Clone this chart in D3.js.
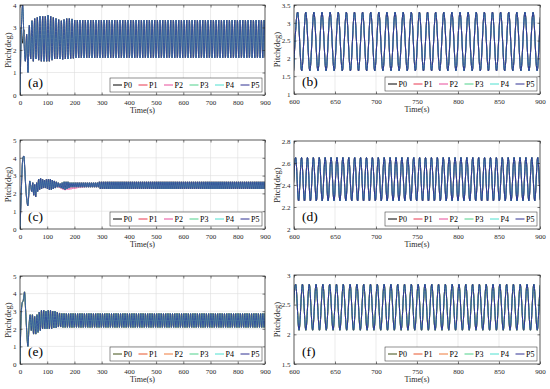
<!DOCTYPE html>
<html><head><meta charset="utf-8">
<script src="https://cdn.jsdelivr.net/npm/d3@7"></script>
<style>body{margin:0;background:#fff}svg{display:block}</style>
</head><body>
<svg id="chart" width="550" height="389"></svg>
<script>
// ---------- data ----------
const seriesNames = ["P0","P1","P2","P3","P4","P5"];
const colorsABCD = ["#000000","#e8364f","#e84d9b","#4fd18b","#4fe0d0","#2e3192"];
const colorsEF   = ["#3f4f14","#e8542a","#ef7b3b","#4fd18b","#4fe0d0","#2e3192"];
const panelLabels = ["(a)","(b)","(c)","(d)","(e)","(f)"];
const xTicksFull = [0,100,200,300,400,500,600,700,800,900];
const xTicksZoom = [600,650,700,750,800,850,900];
const aYTicks = [0,1,2,3,4];
const bYTicks = [1,1.5,2,2.5,3,3.5];
const cYTicks = [0,1,2,3,4,5];
const dYTicks = [2,2.2,2.4,2.6,2.8];
const eYTicks = [0,1,2,3,4,5];
const fYTicks = [1.5,2,2.5,3];

// samples of pitch (deg) at the oscillation extrema: start time, sample step (s), values
const aStart = 0, aStep = 4.9;
const aP5 = [0,2.9,4.0,2.4,1.5,2.7,1.0,3.1,1.6,3.3,1.5,3.4,1.6,3.45,1.55,3.5,1.5,3.5,1.5,3.5,
 1.5,3.55,1.5,3.5,1.55,3.45,1.6,3.4,1.6,3.35,1.6,3.3,1.58,3.35,1.6,3.4,1.6,3.4,1.62,3.38,1.63,
 3.33,1.65,3.33,1.65,3.33,1.65,3.33,1.65,3.33,1.65,3.33,1.65,3.33,1.65,3.33,1.65,3.33,1.65,3.33,1.65,
 3.33,1.65,3.33,1.65,3.33,1.65,3.33,1.65,3.33,1.65,3.33,1.65,3.33,1.65,3.33,1.65,3.33,1.65,3.33,1.65,
 3.33,1.65,3.33,1.65,3.33,1.65,3.33,1.65,3.33,1.65,3.33,1.65,3.33,1.65,3.33,1.65,3.33,1.65,3.33,1.65,
 3.33,1.65,3.33,1.65,3.33,1.65,3.33,1.65,3.33,1.65,3.33,1.65,3.33,1.65,3.33,1.65,3.33,1.65,3.33,1.65,
 3.33,1.65,3.33,1.65,3.33,1.65,3.33,1.65,3.33,1.65,3.33,1.65,3.33,1.65,3.33,1.65,3.33,1.65,3.33,1.65,
 3.33,1.65,3.33,1.65,3.33,1.65,3.33,1.65,3.33,1.65,3.33,1.65,3.33,1.65,3.33,1.65,3.33,1.65,3.33,1.65,
 3.33,1.65,3.33,1.65,3.33,1.65,3.33,1.65,3.33,1.65,3.33,1.65,3.33,1.65,3.33,1.65,3.33,1.65,3.33,1.65,
 3.33,1.65,3.33,1.65,3.33,1.65,3.33,1.65,3.33,1.65,3.33,1.65,3.33,1.65,3.33,1.65,3.33,1.65,3.33,1.65];
const aP0Head = [2.5,3.0,2.3,2.9,1.6,2.6,1.1,3.0];

const bStart = 599.5, bStep = 4.95;
const bP5 = [1.65,3.3,1.65,3.3,1.65,3.3,1.65,3.3,1.65,3.3,1.65,3.3,1.65,3.3,1.65,3.3,1.65,3.3,1.65,3.3,
 1.65,3.3,1.65,3.3,1.65,3.3,1.65,3.3,1.65,3.3,1.65,3.3,1.65,3.3,1.65,3.3,1.65,3.3,1.65,3.3,
 1.65,3.3,1.65,3.3,1.65,3.3,1.65,3.3,1.65,3.3,1.65,3.3,1.65,3.3,1.65,3.3,1.65,3.3,1.65,3.3,1.65,3.3,1.65,3.3];

const cStart = 0, cStep = 3.6;
const cP5 = [0,1.6,3.2,4.0,4.1,3.2,2.2,1.6,1.3,2.0,2.7,2.4,2.1,2.6,1.9,2.5,1.8,2.6,2.1,2.8,
 2.2,2.85,2.25,2.8,2.3,2.75,2.3,2.8,2.25,2.8,2.2,2.8,2.2,2.75,2.25,2.7,2.3,2.65,2.35,2.6,
 2.35,2.55,2.3,2.6,2.25,2.65,2.2,2.65,2.25,2.65,2.3,2.6,2.35,
 2.6,2.35,2.6,2.35,2.6,2.35,2.6,2.35,2.6,2.35,2.6,2.35,2.6,2.35,2.6,2.35,2.6,2.35,2.6,2.35,2.6,2.35,2.6,2.35,2.6,2.35,2.6,2.35,
 2.65,2.25,2.65,2.25,2.65,2.25,2.65,2.25,2.65,2.25,2.65,2.25,2.65,2.25,2.65,2.25,2.65,2.25,2.65,2.25,
 2.65,2.25,2.65,2.25,2.65,2.25,2.65,2.25,2.65,2.25,2.65,2.25,2.65,2.25,2.65,2.25,2.65,2.25,2.65,2.25,
 2.65,2.25,2.65,2.25,2.65,2.25,2.65,2.25,2.65,2.25,2.65,2.25,2.65,2.25,2.65,2.25,2.65,2.25,2.65,2.25,
 2.65,2.25,2.65,2.25,2.65,2.25,2.65,2.25,2.65,2.25,2.65,2.25,2.65,2.25,2.65,2.25,2.65,2.25,2.65,2.25,
 2.65,2.25,2.65,2.25,2.65,2.25,2.65,2.25,2.65,2.25,2.65,2.25,2.65,2.25,2.65,2.25,2.65,2.25,2.65,2.25,
 2.65,2.25,2.65,2.25,2.65,2.25,2.65,2.25,2.65,2.25,2.65,2.25,2.65,2.25,2.65,2.25,2.65,2.25,2.65,2.25,
 2.65,2.25,2.65,2.25,2.65,2.25,2.65,2.25,2.65,2.25,2.65,2.25,2.65,2.25,2.65,2.25,2.65,2.25,2.65,2.25,
 2.65,2.25,2.65,2.25,2.65,2.25,2.65,2.25,2.65,2.25,2.65,2.25,2.65,2.25,2.65,2.25,2.65,2.25,2.65,2.25,
 2.65,2.25,2.65,2.25,2.65,2.25,2.65,2.25,2.65,2.25,2.65,2.25,2.65,2.25,2.65,2.25,2.65,2.25,2.65,2.25];
const cP0Head = [0,1.5,3.1,4.0,4.05,3.3,2.3,1.7,1.35,1.9,2.6];
// P2 of panel (c) deviates slightly between ~144 s and ~250 s (samples 40..69)
const cP2Mid = [2.3,2.55,2.25,2.58,2.2,2.6,2.18,2.6,2.2,2.6,2.2,2.58,2.22,2.57,2.25,
 2.58,2.25,2.6,2.28,2.6,2.3,2.6,2.3,2.6,2.32,2.6,2.33,2.6,2.35,2.6];

const dStart = 598.4, dStep = 3.6;
const dP5 = [2.255,2.65,2.255,2.65,2.255,2.65,2.255,2.65,2.255,2.65,2.255,2.65,2.255,2.65,2.255,2.65,2.255,2.65,2.255,2.65,
 2.255,2.65,2.255,2.65,2.255,2.65,2.255,2.65,2.255,2.65,2.255,2.65,2.255,2.65,2.255,2.65,2.255,2.65,2.255,2.65,
 2.255,2.65,2.255,2.65,2.255,2.65,2.255,2.65,2.255,2.65,2.255,2.65,2.255,2.65,2.255,2.65,2.255,2.65,2.255,2.65,
 2.255,2.65,2.255,2.65,2.255,2.65,2.255,2.65,2.255,2.65,2.255,2.65,2.255,2.65,2.255,2.65,2.255,2.65,2.255,2.65,
 2.255,2.65,2.255,2.65,2.255,2.65,2.255];

const eStart = 0, eStep = 4.15;
const eP5 = [0,2.8,3.5,3.6,4.1,3.0,1.8,1.0,2.2,2.8,1.9,2.8,1.7,2.7,1.7,2.8,1.8,2.95,1.9,3.05,
 2.0,3.05,2.0,3.0,2.0,3.05,2.0,3.05,2.0,3.0,2.05,3.0,2.05,2.95,2.1,2.9,2.1,
 2.87,2.08,2.87,2.08,2.87,2.08,2.87,2.08,2.87,2.08,2.87,2.08,2.87,2.08,2.87,2.08,2.87,2.08,2.87,2.08,
 2.87,2.08,2.87,2.08,2.87,2.08,2.87,2.08,2.87,2.08,2.87,2.08,2.87,2.08,2.87,2.08,2.87,2.08,2.87,2.08,
 2.87,2.08,2.87,2.08,2.87,2.08,2.87,2.08,2.87,2.08,2.87,2.08,2.87,2.08,2.87,2.08,2.87,2.08,2.87,2.08,
 2.87,2.08,2.87,2.08,2.87,2.08,2.87,2.08,2.87,2.08,2.87,2.08,2.87,2.08,2.87,2.08,2.87,2.08,2.87,2.08,
 2.87,2.08,2.87,2.08,2.87,2.08,2.87,2.08,2.87,2.08,2.87,2.08,2.87,2.08,2.87,2.08,2.87,2.08,2.87,2.08,
 2.87,2.08,2.87,2.08,2.87,2.08,2.87,2.08,2.87,2.08,2.87,2.08,2.87,2.08,2.87,2.08,2.87,2.08,2.87,2.08,
 2.87,2.08,2.87,2.08,2.87,2.08,2.87,2.08,2.87,2.08,2.87,2.08,2.87,2.08,2.87,2.08,2.87,2.08,2.87,2.08,
 2.87,2.08,2.87,2.08,2.87,2.08,2.87,2.08,2.87,2.08,2.87,2.08,2.87,2.08,2.87,2.08,2.87,2.08,2.87,2.08,
 2.87,2.08,2.87,2.08,2.87,2.08,2.87,2.08,2.87,2.08,2.87,2.08,2.87,2.08,2.87,2.08,2.87,2.08,2.87,2.08,
 2.87,2.08,2.87,2.08,2.87,2.08,2.87,2.08,2.87,2.08,2.87,2.08,2.87,2.08,2.87,2.08,2.87,2.08,2.87,2.08,2.87];
const eP0Head = [0,2.7,3.4,3.7,4.05,3.1,1.9,1.05,2.1,2.75];

const fStart = 597.85, fStep = 4.15;
const fP5 = [2.07,2.845,2.07,2.845,2.07,2.845,2.07,2.845,2.07,2.845,2.07,2.845,2.07,2.845,2.07,2.845,2.07,2.845,2.07,2.845,
 2.07,2.845,2.07,2.845,2.07,2.845,2.07,2.845,2.07,2.845,2.07,2.845,2.07,2.845,2.07,2.845,2.07,2.845,2.07,2.845,
 2.07,2.845,2.07,2.845,2.07,2.845,2.07,2.845,2.07,2.845,2.07,2.845,2.07,2.845,2.07,2.845,2.07,2.845,2.07,2.845,
 2.07,2.845,2.07,2.845,2.07,2.845,2.07,2.845,2.07,2.845,2.07,2.845,2.07,2.845,2.07,2.845];

// P0 differs only in the initial transient; P1-P4 coincide with P5 (except P2 in (c))
const aP0 = aP0Head.concat(aP5.slice(aP0Head.length));
const cP0 = cP0Head.concat(cP5.slice(cP0Head.length));
const cP2 = cP5.slice(0,40).concat(cP2Mid, cP5.slice(40 + cP2Mid.length));
const eP0 = eP0Head.concat(eP5.slice(eP0Head.length));

// ---------- layout ----------
const FONT = "'Liberation Serif','Times New Roman',serif";
const panels = [
 {box:[20,5,265,95],   xd:[0,900],  xt:xTicksFull, yd:[0,4],    yt:aYTicks, t0:aStart, dt:aStep, s:[aP0,aP5,aP5,aP5,aP5,aP5], col:colorsABCD, yl:11,  sw:0.8},
 {box:[294,5,540,94],  xd:[600,900],xt:xTicksZoom, yd:[1,3.5],  yt:bYTicks, t0:bStart, dt:bStep, s:[bP5,bP5,bP5,bP5,bP5,bP5], col:colorsABCD, yl:280, sw:1},
 {box:[20,140,265,229],xd:[0,900],  xt:xTicksFull, yd:[0,5],    yt:cYTicks, t0:cStart, dt:cStep, s:[cP0,cP5,cP2,cP5,cP5,cP5], col:colorsABCD, yl:11,  sw:0.8},
 {box:[294,141,540,229],xd:[600,900],xt:xTicksZoom,yd:[2,2.8],  yt:dYTicks, t0:dStart, dt:dStep, s:[dP5,dP5,dP5,dP5,dP5,dP5], col:colorsABCD, yl:280, sw:1},
 {box:[20,276,265,364],xd:[0,900],  xt:xTicksFull, yd:[0,5],    yt:eYTicks, t0:eStart, dt:eStep, s:[eP0,eP5,eP5,eP5,eP5,eP5], col:colorsEF,   yl:11,  sw:0.8},
 {box:[294,275,540,364],xd:[600,900],xt:xTicksZoom,yd:[1.5,3],  yt:fYTicks, t0:fStart, dt:fStep, s:[fP5,fP5,fP5,fP5,fP5,fP5], col:colorsEF,   yl:280, sw:1}
];

const svg = d3.select("#chart");
svg.append("rect").attr("width",550).attr("height",389).attr("fill","#fff");
const defs = svg.append("defs");
const fmt = d => String(d);

panels.forEach((p,k)=>{
  const [x0,y0,x1,y1] = p.box;
  const x = d3.scaleLinear().domain(p.xd).range([x0,x1]);
  const y = d3.scaleLinear().domain(p.yd).range([y1,y0]);
  const g = svg.append("g");
  const cid = "clip"+k;
  defs.append("clipPath").attr("id",cid).append("rect")
    .attr("x",x0).attr("y",y0-3).attr("width",x1-x0).attr("height",y1-y0+3);

  // grid
  g.append("g").selectAll("line").data(p.xt).enter().append("line")
    .attr("x1",d=>x(d)).attr("x2",d=>x(d)).attr("y1",y0).attr("y2",y1)
    .attr("stroke","#dedede").attr("stroke-width",0.6);
  g.append("g").selectAll("line").data(p.yt).enter().append("line")
    .attr("y1",d=>y(d)).attr("y2",d=>y(d)).attr("x1",x0).attr("x2",x1)
    .attr("stroke","#dedede").attr("stroke-width",0.6);

  // series
  const line = d3.line()
    .x((d,i)=>x(p.t0 + i*p.dt))
    .y(d=>y(d))
    .curve(d3.curveMonotoneX);
  const lg = g.append("g").attr("clip-path",`url(#${cid})`);
  p.s.forEach((arr,j)=>{
    lg.append("path").attr("d",line(arr)).attr("fill","none")
      .attr("stroke",p.col[j]).attr("stroke-width",p.sw);
  });

  // axes
  const styleAxis = sel => {
    sel.select(".domain").remove();
    sel.selectAll("line").attr("stroke","#262626").attr("stroke-width",0.6);
    sel.selectAll("text").attr("fill","#262626").style("font-family",FONT).style("font-size","7px");
  };
  g.append("g").attr("transform",`translate(0,${y1})`)
    .call(d3.axisBottom(x).tickValues(p.xt).tickFormat(fmt).tickSize(-2.5).tickPadding(5)).call(styleAxis);
  g.append("g").attr("transform",`translate(0,${y0})`)
    .call(d3.axisTop(x).tickValues(p.xt).tickSize(-2.5).tickFormat("")).call(styleAxis);
  g.append("g").attr("transform",`translate(${x0},0)`)
    .call(d3.axisLeft(y).tickValues(p.yt).tickFormat(fmt).tickSize(-2.5).tickPadding(3.5)).call(styleAxis);
  g.append("g").attr("transform",`translate(${x1},0)`)
    .call(d3.axisRight(y).tickValues(p.yt).tickSize(-2.5).tickFormat("")).call(styleAxis);
  g.append("rect").attr("x",x0).attr("y",y0).attr("width",x1-x0).attr("height",y1-y0)
    .attr("fill","none").attr("stroke","#262626").attr("stroke-width",0.7);

  // labels
  g.append("text").attr("x",(x0+x1)/2).attr("y",y1+17.5).attr("text-anchor","middle")
    .style("font-family",FONT).style("font-size","8px").attr("fill","#262626").text("Time(s)");
  g.append("text").attr("transform",`translate(${p.yl},${(y0+y1)/2}) rotate(-90)`)
    .attr("text-anchor","middle").style("font-family",FONT).style("font-size","8.5px")
    .attr("fill","#262626").text("Pitch(deg)");
  g.append("text").attr("x",x0+8).attr("y",y1-8)
    .style("font-family",FONT).style("font-size","13.5px").attr("fill","#000").text(panelLabels[k]);

  // legend
  const lx = x1-155, ly = y1-17;
  const leg = g.append("g");
  leg.append("rect").attr("x",lx).attr("y",ly).attr("width",152).attr("height",14)
    .attr("fill","#fff").attr("stroke","#262626").attr("stroke-width",0.5);
  seriesNames.forEach((n,j)=>{
    const ex = lx + 3 + j*25.5;
    leg.append("line").attr("x1",ex).attr("x2",ex+9).attr("y1",ly+7).attr("y2",ly+7)
      .attr("stroke",p.col[j]).attr("stroke-width",1);
    leg.append("text").attr("x",ex+10.5).attr("y",ly+10)
      .style("font-family",FONT).style("font-size","8px").attr("fill","#000").text(n);
  });
});
</script>
</body></html>
